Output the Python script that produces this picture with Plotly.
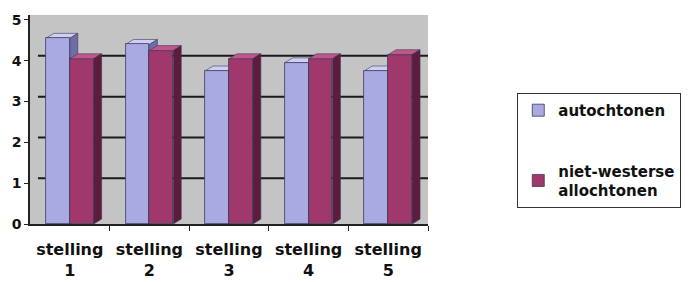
import plotly.graph_objects as go

categories = ["stelling<br>1", "stelling<br>2", "stelling<br>3", "stelling<br>4", "stelling<br>5"]
series_names = ["autochtonen", "niet-westerse<br>allochtonen"]
autochtonen = [4.55, 4.4, 3.75, 3.95, 3.75]
niet_westerse = [4.05, 4.25, 4.05, 4.05, 4.15]
y_ticks = [0, 1, 2, 3, 4, 5]

FRONT = ["#aaaae2", "#a0386c"]
TOP = ["#cfcff5", "#c0578a"]
SIDE = ["#6e6ea6", "#5e1c3c"]
W = 0.3
DX, DY = 0.1, 0.12

xs = list(range(1, len(categories) + 1))
fig = go.Figure()
shapes = []
# back-wall gridlines
for t in y_ticks[1:-1]:
    shapes.append(dict(type="line", xref="x", yref="y", x0=0.5 + DX, x1=5.5, y0=t + DY, y1=t + DY,
                       line=dict(color="#1a1a1a", width=2), layer="below"))
for si, vals in enumerate([autochtonen, niet_westerse]):
    off = -W / 2 if si == 0 else W / 2
    layer = "below" if si == 0 else "above"
    fig.add_trace(go.Bar(x=[x + off for x in xs], y=vals, width=W, name=series_names[si],
                         legendgroup=str(si),
                         marker=dict(color=FRONT[si], line=dict(color="#3a3a5a", width=0.8))))
    for x, v in zip(xs, vals):
        x0 = x + off - W / 2
        x1 = x + off + W / 2
        shapes.append(dict(type="path", xref="x", yref="y",
                           path=f"M{x0},{v} L{x1},{v} L{x1+DX},{v+DY} L{x0+DX},{v+DY} Z",
                           fillcolor=TOP[si], line=dict(color="#3a3a5a", width=0.6), layer=layer))
        shapes.append(dict(type="path", xref="x", yref="y",
                           path=f"M{x1},0 L{x1},{v} L{x1+DX},{v+DY} L{x1+DX},{DY} Z",
                           fillcolor=SIDE[si], line=dict(color="#3a3a5a", width=0.6), layer=layer))

fig.update_layout(
    width=691, height=274,
    margin=dict(l=22, r=271, t=7, b=58),
    paper_bgcolor="white", plot_bgcolor="#c4c4c4",
    barmode="overlay", bargap=0,
    shapes=shapes,
    font=dict(family="DejaVu Sans", color="#111111"),
    showlegend=True,
    legend=dict(xref="container", yref="container", x=0.737, y=0.69, xanchor="left", yanchor="top",
                bordercolor="#333333", borderwidth=1, bgcolor="white",
                font=dict(size=15, family="DejaVu Sans", weight="bold"),
                traceorder="grouped", tracegroupgap=38, itemwidth=30),
    xaxis=dict(range=[0.5, 5.5], tickmode="array", tickvals=xs, ticktext=categories, automargin=False,
               showgrid=False, zeroline=False, showline=True, linecolor="#222222", linewidth=1.5,
               ticks="", ticklabelstandoff=10,
               tickfont=dict(size=16, weight="bold", family="DejaVu Sans"),
               minor=dict(tickmode="array", tickvals=[x + 0.5 for x in xs], ticks="outside",
                          ticklen=5, tickcolor="#222222", showgrid=False)),
    yaxis=dict(range=[0, 5 + DY], tickmode="array", tickvals=y_ticks, ticktext=[str(t) for t in y_ticks],
               automargin=False,
               showgrid=False, zeroline=False, showline=True, linecolor="#222222", linewidth=1.5,
               ticks="outside", ticklen=4, tickcolor="#222222",
               tickfont=dict(size=14, weight="bold", family="DejaVu Sans")),
)
fig.write_html("out.html")
